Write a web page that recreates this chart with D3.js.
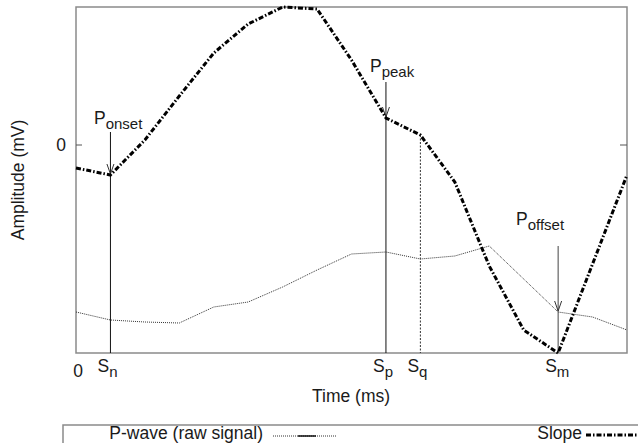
<!DOCTYPE html>
<html>
<head>
<meta charset="utf-8">
<script src="https://cdn.jsdelivr.net/npm/d3@7"></script>
<style>
  html, body { margin: 0; padding: 0; background: #fff; }
  svg { display: block; }
  text { font-family: "Liberation Sans", Arial, Helvetica, sans-serif; fill: #1a1a1a; }
</style>
</head>
<body>
<script>
// ---- data (sample index = time) ----
const timeIdx = [0,1,2,3,4,5,6,7,8,9,10,11,12,13,14,15,16];
const slopeValues = [-0.23,-0.30,0.05,0.49,0.92,1.21,1.38,1.36,0.85,0.27,0.10,-0.37,-1.21,-1.85,-2.08,-1.19,-0.30];
const rawValues   = [-1.67,-1.75,-1.77,-1.78,-1.62,-1.57,-1.42,-1.25,-1.09,-1.07,-1.14,-1.11,-1.01,-1.34,-1.67,-1.72,-1.85];
const xTickIdx    = [0, 1, 9, 10, 14];
const xTickMain   = ["0", "S", "S", "S", "S"];
const xTickSub    = ["", "n", "p", "q", "m"];
const yTicks      = [0];
const markers     = [
  {name: "onset",  idx: 1,  series: "slope", top: 132, lx: 94,  ly: 124},
  {name: "peak",   idx: 9,  series: "slope", top: 82,  lx: 370, ly: 72},
  {name: "offset", idx: 14, series: "raw",   top: 246, lx: 516, ly: 225}
];
const sqIdx = 10;

const W = 638, H = 443;
const m = {left: 76, top: 7, right: 627, bottom: 353};
const FS = 17.5, FSS = 15;

const svg = d3.select("body").append("svg").attr("width", W).attr("height", H);

const x = d3.scaleLinear().domain([0, 16]).range([m.left, m.right]);
const y = d3.scaleLinear().domain([-2.08, 1.38]).range([m.bottom, m.top]);

// frame
svg.append("rect")
  .attr("x", m.left).attr("y", m.top)
  .attr("width", m.right - m.left).attr("height", m.bottom - m.top)
  .attr("fill", "none").attr("stroke", "#8a8a8a").attr("stroke-width", 1.5);

// y ticks (left and right, inward)
yTicks.forEach(v => {
  svg.append("line").attr("x1", m.left).attr("x2", m.left + 6)
    .attr("y1", y(v)).attr("y2", y(v)).attr("stroke", "#555");
  svg.append("line").attr("x1", m.right - 7).attr("x2", m.right)
    .attr("y1", y(v)).attr("y2", y(v)).attr("stroke", "#555");
  svg.append("text").attr("x", m.left - 10).attr("y", y(v) + 6)
    .attr("text-anchor", "end").attr("font-size", FS).text(String(v));
});

// x tick labels
xTickIdx.forEach((t, i) => {
  if (xTickSub[i] === "") {
    svg.append("text").attr("x", x(t) + 2).attr("y", 377)
      .attr("text-anchor", "middle").attr("font-size", FS).text(xTickMain[i]);
  } else {
    const tx = svg.append("text").attr("x", x(t) - 13).attr("y", 372).attr("font-size", FS);
    tx.append("tspan").text(xTickMain[i]);
    tx.append("tspan").attr("font-size", FSS).attr("dy", 5).text(xTickSub[i]);
  }
});

// axis titles
svg.append("text").attr("x", 351).attr("y", 402).attr("text-anchor", "middle")
  .attr("font-size", FS).text("Time (ms)");
svg.append("text").attr("transform", "translate(24,180) rotate(-90)")
  .attr("text-anchor", "middle").attr("font-size", FS).text("Amplitude (mV)");

// raw signal
const line = d3.line().x((d, i) => x(timeIdx[i])).y(d => y(d));
svg.append("path").datum(rawValues).attr("d", line)
  .attr("fill", "none").attr("stroke", "#333").attr("stroke-width", 1)
  .attr("stroke-dasharray", "1,1");

// Sq dotted marker line
svg.append("line").attr("x1", x(sqIdx)).attr("x2", x(sqIdx))
  .attr("y1", y(slopeValues[sqIdx])).attr("y2", m.bottom)
  .attr("stroke", "#333").attr("stroke-width", 1).attr("stroke-dasharray", "2,1.5");

// marker lines with open arrowheads and labels
markers.forEach(mk => {
  const xx = x(timeIdx[mk.idx]);
  const tipY = mk.series === "slope" ? y(slopeValues[mk.idx]) : y(rawValues[mk.idx]);
  svg.append("line").attr("x1", xx).attr("x2", xx).attr("y1", mk.top).attr("y2", m.bottom)
    .attr("stroke", mk.name === "offset" ? "#444" : "#111").attr("stroke-width", 1);
  svg.append("path")
    .attr("d", `M${xx - 3.5},${tipY - 11}L${xx},${tipY - 1}L${xx + 3.5},${tipY - 11}`)
    .attr("fill", "none").attr("stroke", "#333").attr("stroke-width", 1);
  const t = svg.append("text").attr("x", mk.lx).attr("y", mk.ly).attr("font-size", FS);
  t.append("tspan").text("P");
  t.append("tspan").attr("font-size", FSS).attr("dy", 5).text(mk.name);
});

// slope
svg.append("path").datum(slopeValues).attr("d", line)
  .attr("fill", "none").attr("stroke", "#000").attr("stroke-width", 3)
  .attr("stroke-dasharray", "5,2,1.5,2");

// legend
svg.append("rect").attr("x", 63).attr("y", 425).attr("width", 620).attr("height", 40)
  .attr("fill", "none").attr("stroke", "#8a8a8a").attr("stroke-width", 1.5);
svg.append("text").attr("x", 263).attr("y", 439).attr("text-anchor", "end")
  .attr("font-size", FS).text("P-wave (raw signal)");
svg.append("line").attr("x1", 273).attr("x2", 337).attr("y1", 436).attr("y2", 436)
  .attr("stroke", "#333").attr("stroke-width", 1).attr("stroke-dasharray", "1,1");
svg.append("line").attr("x1", 298).attr("x2", 316).attr("y1", 436).attr("y2", 436)
  .attr("stroke", "#111").attr("stroke-width", 1.5);
svg.append("text").attr("x", 582).attr("y", 439).attr("text-anchor", "end")
  .attr("font-size", FS).text("Slope");
svg.append("line").attr("x1", 586).attr("x2", 640).attr("y1", 435).attr("y2", 435)
  .attr("stroke", "#000").attr("stroke-width", 3).attr("stroke-dasharray", "5,2,1.5,2");
</script>
</body>
</html>
